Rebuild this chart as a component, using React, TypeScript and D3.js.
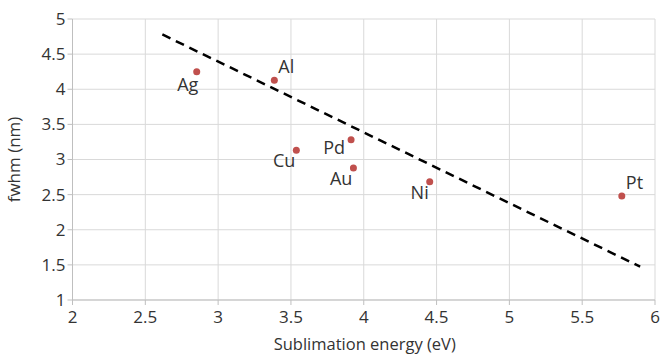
import React from 'react';
import * as d3 from 'd3';

// metals: sublimation energy (eV) vs fwhm (nm)
const metals = ['Ag', 'Al', 'Cu', 'Pd', 'Au', 'Ni', 'Pt'];
const energy = [2.853, 3.386, 3.537, 3.913, 3.929, 4.453, 5.772];
const fwhm = [4.25, 4.127, 3.131, 3.282, 2.879, 2.684, 2.48];
// where each label sits relative to its point
const labelSide = ['below', 'aboveRight', 'belowLeft', 'left', 'belowLeft', 'belowLeft', 'aboveRight'];

// dashed trend line end points
const trendX = [2.617, 5.898];
const trendY = [4.78, 1.474];

const xTicks = [2, 2.5, 3, 3.5, 4, 4.5, 5, 5.5, 6];
const yTicks = [1, 1.5, 2, 2.5, 3, 3.5, 4, 4.5, 5];

const width = 662;
const height = 354;
const margin = { top: 19, right: 7, bottom: 54, left: 72.5 };
const font = "'Open Sans', sans-serif";
const textColor = '#333';

export default function App() {
  const innerW = width - margin.left - margin.right;
  const innerH = height - margin.top - margin.bottom;

  const x = d3.scaleLinear().domain([2, 6]).range([0, innerW]);
  const y = d3.scaleLinear().domain([1, 5]).range([innerH, 0]);

  const line = d3.line<number>()
    .x((d) => x(trendX[d]))
    .y((d) => y(trendY[d]));

  const labelPos = (side: string, px: number, py: number) => {
    switch (side) {
      case 'below': return { x: px - 9, y: py + 19, anchor: 'middle' };
      case 'aboveRight': return { x: px + 4, y: py - 7, anchor: 'start' };
      case 'belowLeft': return { x: px - 1, y: py + 17, anchor: 'end' };
      case 'left': return { x: px - 6, y: py + 14, anchor: 'end' };
      default: return { x: px, y: py, anchor: 'middle' };
    }
  };

  return (
    <svg width={width} height={height} style={{ position: 'absolute', left: 0, top: 0, background: '#fff' }}>
      <g transform={`translate(${margin.left},${margin.top})`} fontFamily={font}>
        {/* grid */}
        {xTicks.map((t) => (
          <line key={'gx' + t} x1={x(t)} x2={x(t)} y1={0} y2={innerH} stroke="#d9d9d9" strokeWidth={1} />
        ))}
        {yTicks.map((t) => (
          <line key={'gy' + t} x1={0} x2={innerW} y1={y(t)} y2={y(t)} stroke="#d9d9d9" strokeWidth={1} />
        ))}
        {/* axes */}
        <line x1={0} x2={innerW} y1={innerH} y2={innerH} stroke="#bfbfbf" />
        <line x1={0} x2={0} y1={0} y2={innerH} stroke="#bfbfbf" />
        {xTicks.map((t) => (
          <g key={'tx' + t} transform={`translate(${x(t)},${innerH})`}>
            <line y1={0} y2={5} stroke="#bfbfbf" />
            <text y={23} textAnchor="middle" fontSize={17} fill={textColor}>{t}</text>
          </g>
        ))}
        {yTicks.map((t) => (
          <g key={'ty' + t} transform={`translate(0,${y(t)})`}>
            <line x1={-5} x2={0} stroke="#bfbfbf" />
            <text x={-7} dy="0.35em" textAnchor="end" fontSize={17} fill={textColor}>{t}</text>
          </g>
        ))}
        {/* trend line */}
        <path d={line([0, 1]) ?? ''} fill="none" stroke="#000" strokeWidth={2.5} strokeDasharray="9,6" />
        {/* points */}
        {metals.map((m, i) => {
          const px = x(energy[i]);
          const py = y(fwhm[i]);
          const lp = labelPos(labelSide[i], px, py);
          return (
            <g key={m}>
              <circle cx={px} cy={py} r={3.5} fill="#c0504d" />
              <text x={lp.x} y={lp.y} textAnchor={lp.anchor} fontSize={18} fill={textColor}>{m}</text>
            </g>
          );
        })}
        {/* axis titles */}
        <text x={innerW / 2 + 1} y={innerH + 50} textAnchor="middle" fontSize={16.5} fill={textColor}>Sublimation energy (eV)</text>
        <text transform={`translate(${-53},${innerH / 2}) rotate(-90)`} textAnchor="middle" fontSize={17} fill={textColor}>fwhm (nm)</text>
      </g>
    </svg>
  );
}
